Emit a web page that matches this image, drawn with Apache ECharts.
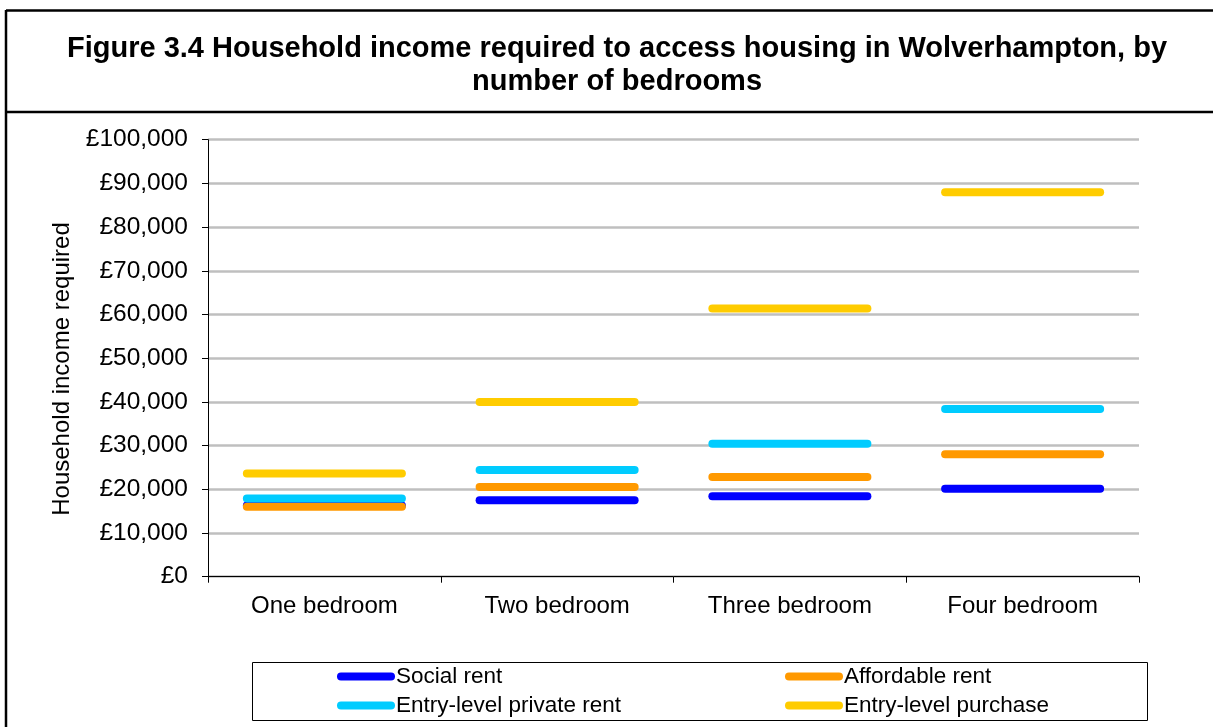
<!DOCTYPE html>
<html>
<head>
<meta charset="utf-8">
<title>Household income required to access housing in Wolverhampton</title>
<script src="https://cdn.jsdelivr.net/npm/echarts@6/dist/echarts.min.js"></script>
<style>
  html, body { margin: 0; padding: 0; background: #ffffff; }
  #chart { width: 1213px; height: 727px; }
</style>
</head>
<body>
<div id="chart"></div>
<script>
// Bedroom sizes along the x axis
const categories = ['One bedroom', 'Two bedroom', 'Three bedroom', 'Four bedroom'];

// Household income (£ per year) needed for each tenure
const socialRent = [16300, 17500, 18400, 20100];
const affordableRent = [16000, 20500, 22800, 28000];
const privateRent = [17900, 24400, 30400, 38400];
const entryPurchase = [23600, 40000, 61400, 88000];

// Y axis range and step
const yMin = 0;
const yMax = 100000;
const yStep = 10000;

const seriesDefs = [
  { name: 'Social rent', data: socialRent, color: '#0000FF' },
  { name: 'Affordable rent', data: affordableRent, color: '#FF9900' },
  { name: 'Entry-level private rent', data: privateRent, color: '#00CCFF' },
  { name: 'Entry-level purchase', data: entryPurchase, color: '#FFCC00' }
];

const FONT = '"Liberation Sans", Arial, sans-serif';

// Each value is drawn as a thick rounded dash spanning most of its category band
function dashRenderer(color) {
  return function (params, api) {
    const pt = api.coord([api.value(0), api.value(1)]);
    const band = api.size([1, 0])[0];
    const half = band * 0.333;
    return {
      type: 'line',
      shape: { x1: pt[0] - half, y1: pt[1], x2: pt[0] + half, y2: pt[1] },
      style: { stroke: color, lineWidth: 8, lineCap: 'round' }
    };
  };
}

const legendIcon = 'path://M4,0 L54,0 A4,4 0 0 1 54,8 L4,8 A4,4 0 0 1 4,0 Z';

const legendText = { fontFamily: FONT, fontSize: 22.5, color: '#000000', padding: [0, 0, 0, -4] };

const chart = echarts.init(document.getElementById('chart'), null, { renderer: 'canvas' });

chart.setOption({
  backgroundColor: '#ffffff',
  animation: false,
  title: {
    text: 'Figure 3.4 Household income required to access housing in Wolverhampton, by\nnumber of bedrooms',
    left: 612,
    top: 27,
    textAlign: 'center',
    textStyle: {
      fontFamily: FONT,
      fontWeight: 'bold',
      fontSize: 29,
      lineHeight: 33,
      color: '#000000'
    }
  },
  legend: [
    {
      data: ['Social rent', 'Entry-level private rent'],
      orient: 'vertical',
      left: 332,
      top: 660,
      icon: legendIcon,
      itemWidth: 58,
      itemHeight: 8,
      itemGap: 6,
      selectedMode: false,
      textStyle: legendText
    },
    {
      data: ['Affordable rent', 'Entry-level purchase'],
      orient: 'vertical',
      left: 780,
      top: 660,
      icon: legendIcon,
      itemWidth: 58,
      itemHeight: 8,
      itemGap: 6,
      selectedMode: false,
      textStyle: legendText
    }
  ],
  grid: {
    left: 208,
    right: 74,
    top: 139.7,
    bottom: 150.3,
    containLabel: false
  },
  xAxis: {
    type: 'category',
    data: categories,
    boundaryGap: true,
    axisLine: { show: true, lineStyle: { color: '#000000', width: 1 } },
    axisTick: { show: true, alignWithLabel: false, length: 6, lineStyle: { color: '#000000' } },
    axisLabel: { fontFamily: FONT, fontSize: 24, color: '#000000', margin: 18 },
    splitLine: { show: false }
  },
  yAxis: {
    type: 'value',
    min: yMin,
    max: yMax,
    interval: yStep,
    axisLine: { show: true, lineStyle: { color: '#000000', width: 1 } },
    axisTick: { show: true, inside: false, length: 6, lineStyle: { color: '#000000' } },
    axisLabel: {
      fontFamily: FONT,
      fontSize: 24.5,
      color: '#000000',
      margin: 20,
      formatter: function (v) { return '£' + v.toLocaleString('en-GB'); }
    },
    splitLine: { show: true, lineStyle: { color: '#BFBFBF', width: 2.5 } }
  },
  series: seriesDefs.map(function (s) {
    return {
      type: 'custom',
      name: s.name,
      color: s.color,
      itemStyle: { color: s.color },
      renderItem: dashRenderer(s.color),
      encode: { x: 0, y: 1 },
      data: s.data.map(function (v, i) { return [i, v]; }),
      z: 3
    };
  }),
  graphic: [
    // outer frame: left edge and top edge
    { type: 'line', shape: { x1: 6, y1: 10, x2: 6, y2: 727 }, style: { stroke: '#000000', lineWidth: 2.5 }, z: 10 },
    { type: 'line', shape: { x1: 6, y1: 10.5, x2: 1213, y2: 10.5 }, style: { stroke: '#000000', lineWidth: 2.5 }, z: 10 },
    // divider beneath the title
    { type: 'line', shape: { x1: 6, y1: 112, x2: 1213, y2: 112 }, style: { stroke: '#000000', lineWidth: 2.5 }, z: 10 },
    // legend box
    { type: 'rect', shape: { x: 252.5, y: 662.5, width: 895, height: 58 }, style: { fill: 'none', stroke: '#000000', lineWidth: 1 }, z: 0 },
    // y axis title
    {
      type: 'text',
      x: 62,
      y: 369,
      rotation: Math.PI / 2,
      style: {
        text: 'Household income required',
        fontFamily: FONT,
        fontSize: 24,
        fill: '#000000',
        align: 'center',
        verticalAlign: 'middle'
      },
      z: 10
    }
  ]
});
</script>
</body>
</html>
